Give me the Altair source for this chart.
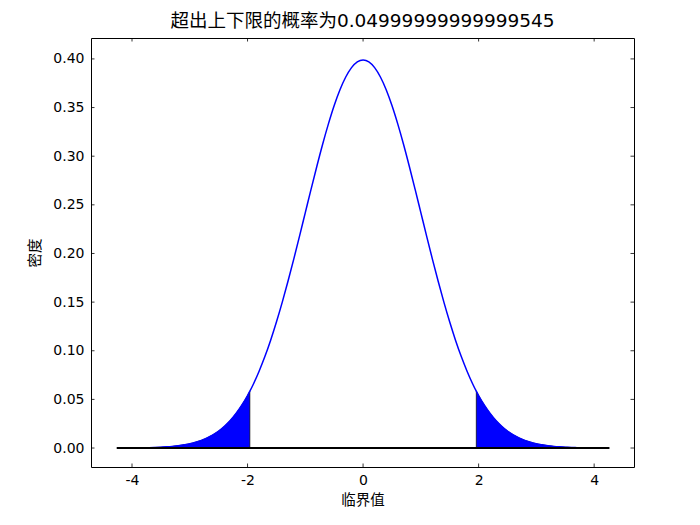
import altair as alt
import pandas as pd

# x positions and density values
xs = [-3.9, -3.8, -3.7, -3.6, -3.5, -3.4, -3.3, -3.2, -3.1, -3.0,
      -2.9, -2.8, -2.7, -2.6, -2.5, -2.4, -2.3, -2.2, -2.1, -2.0, -1.96,
      -1.9, -1.8, -1.7, -1.6, -1.5, -1.4, -1.3, -1.2, -1.1, -1.0,
      -0.9, -0.8, -0.7, -0.6, -0.5, -0.4, -0.3, -0.2, -0.1, 0.0,
      0.1, 0.2, 0.3, 0.4, 0.5, 0.6, 0.7, 0.8, 0.9, 1.0,
      1.1, 1.2, 1.3, 1.4, 1.5, 1.6, 1.7, 1.8, 1.9, 1.96, 2.0,
      2.1, 2.2, 2.3, 2.4, 2.5, 2.6, 2.7, 2.8, 2.9, 3.0,
      3.1, 3.2, 3.3, 3.4, 3.5, 3.6, 3.7, 3.8, 3.9]
# density at 0.0, 0.1, ..., 1.9, 1.96, 2.0, ..., 3.9 (curve is symmetric)
half = [0.3989, 0.3970, 0.3910, 0.3814, 0.3683, 0.3521, 0.3332, 0.3123, 0.2897, 0.2661,
        0.2420, 0.2179, 0.1942, 0.1714, 0.1497, 0.1295, 0.1109, 0.0940, 0.0790, 0.0656,
        0.0584, 0.0540, 0.0440, 0.0355, 0.0283, 0.0224, 0.0175, 0.0136, 0.0104, 0.0079,
        0.0060, 0.0044, 0.0033, 0.0024, 0.0017, 0.0012, 0.0009, 0.0006, 0.0004, 0.0003,
        0.0002]
dens = list(reversed(half[1:])) + half

critical = 1.96
hline_lo, hline_hi = -4.265, 4.265
x_ticks = [-4, -2, 0, 2, 4]
y_ticks = [0.00, 0.05, 0.10, 0.15, 0.20, 0.25, 0.30, 0.35, 0.40]
title_text = "超出上下限的概率为0.04999999999999545"

W, H = 543, 429
FONT = "DejaVu Sans, Noto Sans CJK SC"

df = pd.DataFrame({"x": xs, "y": dens})
df["tail"] = ["left" if v <= -critical else ("right" if v >= critical else "mid") for v in xs]

xscale = alt.Scale(domain=[-4.71, 4.69], nice=False, zero=False)
yscale = alt.Scale(domain=[-0.0195, 0.4215], nice=False, zero=False)

base = alt.Chart(df)

fill = base.transform_filter(alt.datum.tail != "mid").mark_area(
    color="blue", stroke="black", strokeWidth=0.7, interpolate="monotone"
).encode(
    x=alt.X("x:Q", scale=xscale,
            axis=alt.Axis(values=x_ticks, labelExpr="'' + datum.value", title="临界值",
                          grid=False, ticks=False, tickSize=0, labelPadding=6, domain=False,
                          labelFontSize=14, titleFontSize=14.5, titleFontWeight="normal",
                          labelColor="black", titleColor="black", labelFont=FONT,
                          titleFont=FONT, titlePadding=6, labelFlush=False)),
    y=alt.Y("y:Q", scale=yscale, stack=None,
            axis=alt.Axis(values=y_ticks, format=".2f", title="密度", grid=False,
                          ticks=False, tickSize=0, labelPadding=7, domain=False,
                          labelFontSize=14, titleFontSize=14.5, titleFontWeight="normal",
                          labelColor="black", titleColor="black", labelFont=FONT,
                          titleFont=FONT, titlePadding=10, labelFlush=False)),
    detail="tail:N",
)

curve = base.mark_line(color="blue", strokeWidth=1.5, interpolate="monotone").encode(
    x=alt.X("x:Q", scale=xscale), y=alt.Y("y:Q", scale=yscale)
)

hl = alt.Chart(pd.DataFrame({"a": [hline_lo], "b": [hline_hi], "y": [0.0]})).mark_rule(
    color="black", strokeWidth=2
).encode(x=alt.X("a:Q", scale=xscale), x2="b:Q", y=alt.Y("y:Q", scale=yscale))

xt = pd.DataFrame({"v": x_ticks})
yt = pd.DataFrame({"v": y_ticks})
tb = alt.Chart(xt).mark_rule(color="black", strokeWidth=0.8).encode(
    x=alt.X("v:Q", scale=xscale), y=alt.value(H), y2=alt.value(H - 3.5))
tt = alt.Chart(xt).mark_rule(color="black", strokeWidth=0.8).encode(
    x=alt.X("v:Q", scale=xscale), y=alt.value(0), y2=alt.value(3.5))
tl = alt.Chart(yt).mark_rule(color="black", strokeWidth=0.8).encode(
    y=alt.Y("v:Q", scale=yscale), x=alt.value(0), x2=alt.value(3.5))
tr = alt.Chart(yt).mark_rule(color="black", strokeWidth=0.8).encode(
    y=alt.Y("v:Q", scale=yscale), x=alt.value(W), x2=alt.value(W - 3.5))

chart = alt.layer(fill, curve, hl, tb, tt, tl, tr).properties(
    width=W, height=H,
    title=alt.TitleParams(title_text, fontSize=18.5, font=FONT, fontWeight="normal",
                          color="black", offset=7),
    autosize=alt.AutoSizeParams(type="none"),
    padding={"left": 83, "top": 30, "right": 58, "bottom": 50},
).configure(background="white").configure_view(stroke="black", strokeWidth=1)

chart.save("out.html", embed_options={"renderer": "svg", "actions": False})
